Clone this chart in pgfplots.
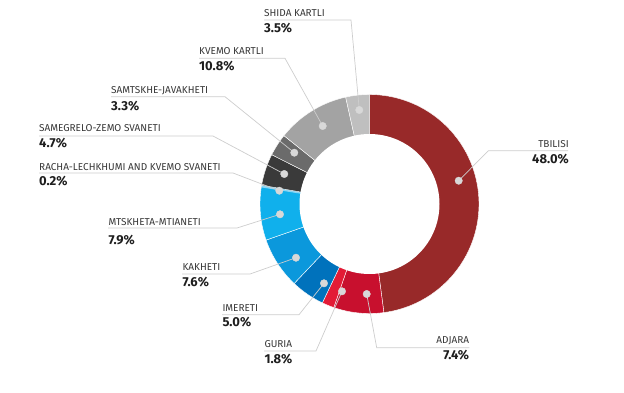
\documentclass[border=0pt]{standalone}
\usepackage{pgfplots}
\pgfplotsset{compat=1.18}
\usepackage{fontspec}
\setmainfont{Fira Sans}
\definecolor{ctbilisi}{RGB}{152,41,41}
\definecolor{cadjara}{RGB}{200,16,46}
\definecolor{cguria}{RGB}{227,27,54}
\definecolor{cimereti}{RGB}{0,114,188}
\definecolor{ckakheti}{RGB}{11,152,220}
\definecolor{cmtskheta}{RGB}{16,176,236}
\definecolor{cracha}{RGB}{138,214,245}
\definecolor{csamegrelo}{RGB}{58,58,58}
\definecolor{csamtskhe}{RGB}{107,107,107}
\definecolor{ckvemo}{RGB}{163,163,163}
\definecolor{cshida}{RGB}{191,191,191}
\definecolor{leadgray}{RGB}{205,205,205}
\definecolor{dotgray}{RGB}{216,216,216}
\definecolor{namegray}{RGB}{55,55,55}
\definecolor{pctblack}{RGB}{30,30,30}
% slice: start, end (cumulative %, total 100.2), colour
\newcommand{\slice}[3]{%
  \addplot[fill=#3, draw=white, line width=0.4pt, domain=#1:#2, samples=90, variable=\t]
    ({369.5+109.5*sin(360*\t/100.2)}, {204-109.5*cos(360*\t/100.2)}) -- (axis cs:369.5,204) -- cycle;
}
\newcommand{\lab}[6]{% anchor, x, y name, y pct, name, pct
  \node[anchor=base #1, inner sep=0pt, font=\fontsize{10}{12}\selectfont, text=namegray] at (axis cs:#2,#3) {#5};
  \node[anchor=base #1, inner sep=0pt, font=\fontsize{13}{15}\selectfont\bfseries, text=pctblack] at (axis cs:#2,#4) {#6};
}
\begin{document}
\begin{tikzpicture}
\begin{axis}[
  width=624pt, height=392pt, scale only axis,
  xmin=0, xmax=624, ymin=0, ymax=392, y dir=reverse,
  hide axis, clip=false,
]
\addplot[draw=none] coordinates {(0,0) (624,392)};
% donut slices (values: 48.0, 7.4, 1.8, 5.0, 7.6, 7.9, 0.2, 4.7, 3.3, 10.8, 3.5)
\slice{0}{48.0}{ctbilisi}
\slice{48.0}{55.4}{cadjara}
\slice{55.4}{57.2}{cguria}
\slice{57.2}{62.2}{cimereti}
\slice{62.2}{69.8}{ckakheti}
\slice{69.8}{77.7}{cmtskheta}
\addplot[fill=cracha, draw=cracha, line width=1.6pt, domain=77.7:77.9, samples=5, variable=\t]
    ({369.5+108.5*sin(360*\t/100.2)}, {204-108.5*cos(360*\t/100.2)}) -- (axis cs:369.5,204) -- cycle;
\slice{77.9}{82.6}{csamegrelo}
\slice{82.6}{85.9}{csamtskhe}
\slice{85.9}{96.7}{ckvemo}
\slice{96.7}{100.2}{cshida}
% hole
\addplot[fill=white, draw=none, domain=0:360, samples=120] ({369.5+70*cos(x)}, {204+70*sin(x)}) -- cycle;
% leader lines
\addplot[leadgray, line width=0.7pt] coordinates {(264,20) (351,20) (359.3,110)};
\addplot[leadgray, line width=0.7pt] coordinates {(199,58.3) (285,58.3) (322.7,126)};
\addplot[leadgray, line width=0.7pt] coordinates {(111,96.7) (225,96.7) (294.3,152.7)};
\addplot[leadgray, line width=0.7pt] coordinates {(39,136) (213,136) (284.3,174)};
\addplot[leadgray, line width=0.7pt] coordinates {(39,173) (233,173) (279.3,190.7)};
\addplot[leadgray, line width=0.7pt] coordinates {(108,228) (237,228) (280,214.3)};
\addplot[leadgray, line width=0.7pt] coordinates {(182,274) (250,274) (296,257.7)};
\addplot[leadgray, line width=0.7pt] coordinates {(222,314.7) (299,314.7) (324,283.3)};
\addplot[leadgray, line width=0.7pt] coordinates {(264,351) (316,351) (342,291.3)};
\addplot[leadgray, line width=0.7pt] coordinates {(469.3,347.7) (376.7,347.7) (366.7,294)};
\addplot[leadgray, line width=0.7pt] coordinates {(568,150.7) (488.3,150.7) (458.7,180.7)};
% dots
\addplot[only marks, color=dotgray, mark=*, mark size=3.7pt, mark options={fill=dotgray, draw=dotgray}] coordinates {
  (359.3,110) (322.7,126) (294.3,152.7) (284.3,174) (279.3,190.7) (280,214.3)
  (296,257.7) (324,283.3) (342,291.3) (366.7,294) (458.7,180.7)};
% labels
\lab{west}{264}{16}{32}{SHIDA KARTLI}{3.5\%}
\lab{west}{199}{54}{70.7}{KVEMO KARTLI}{10.8\%}
\lab{west}{111}{93.3}{110}{SAMTSKHE-JAVAKHETI}{3.3\%}
\lab{west}{39}{131.7}{147.3}{SAMEGRELO-ZEMO SVANETI}{4.7\%}
\lab{west}{39}{170.3}{185.7}{RACHA-LECHKHUMI AND KVEMO SVANETI}{0.2\%}
\lab{west}{108.3}{225.7}{244}{MTSKHETA-MTIANETI}{7.9\%}
\lab{west}{182.3}{270}{286}{KAKHETI}{7.6\%}
\lab{west}{222.3}{311}{326.7}{IMERETI}{5.0\%}
\lab{west}{264.3}{347.7}{363.3}{GURIA}{1.8\%}
\lab{east}{469.3}{343.3}{359.3}{ADJARA}{7.4\%}
\lab{east}{569}{147.3}{163.3}{TBILISI}{48.0\%}
\end{axis}
\end{tikzpicture}
\end{document}
